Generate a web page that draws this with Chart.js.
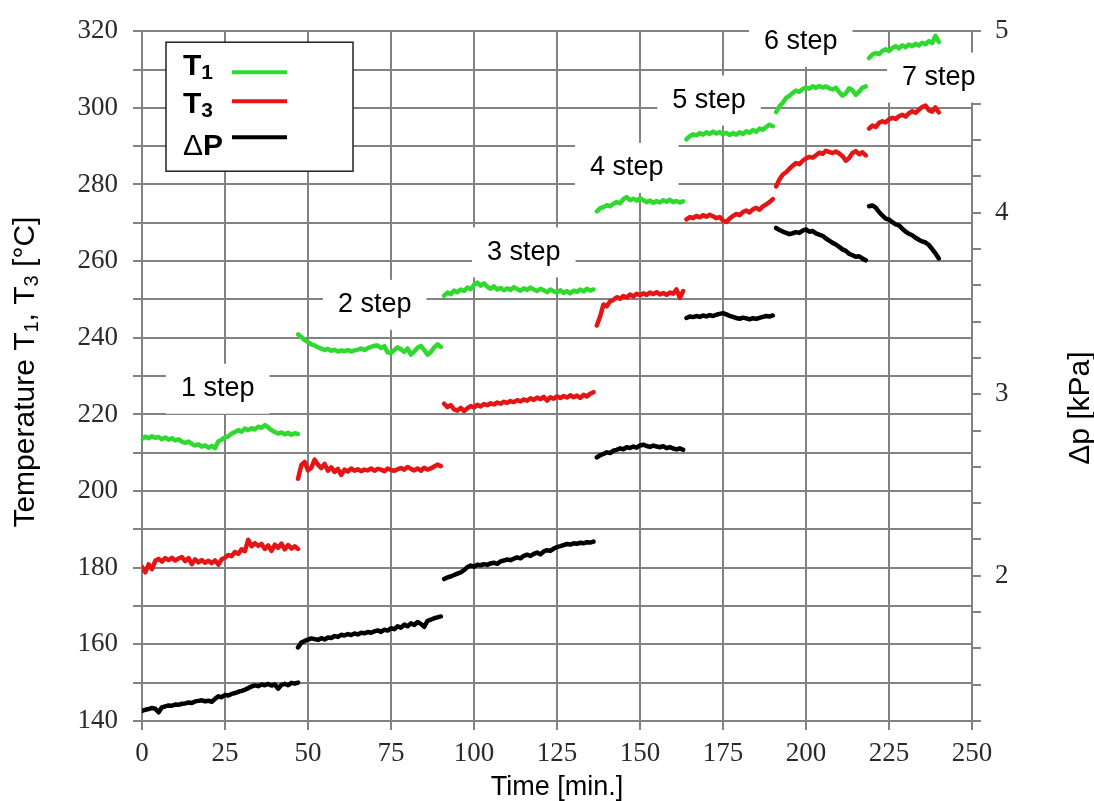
<!DOCTYPE html>
<html>
<head>
<meta charset="utf-8">
<script src="https://cdn.jsdelivr.net/npm/chart.js@4.4.1/dist/chart.umd.min.js"></script>
<style>
  html, body { margin: 0; padding: 0; background: #fff; }
  canvas { display: block; }
</style>
</head>
<body>
<canvas id="chart" width="1094" height="801"></canvas>
<script>
// time [min] of the samples of each heating step
const stepTimes = [
    [0,1,2,3,4,5,6,7,8,9,10,11,12,13,14,15,16,17,18,19,20,21,22,23,24,25,26,27,28,29,30,31,32,33,34,35,36,37,38,39,40,41,42,43,44,45,46,47],
    [47,48,49,50,51,52,53,54,55,56,57,58,59,60,61,62,63,64,65,66,67,68,69,70,71,72,73,74,75,76,77,78,79,80,81,82,83,84,85,86,87,88,89,90],
    [91,92,93,94,95,96,97,98,99,100,101,102,103,104,105,106,107,108,109,110,111,112,113,114,115,116,117,118,119,120,121,122,123,124,125,126,127,128,129,130,131,132,133,134,135,136],
    [137,138,139,140,141,142,143,144,145,146,147,148,149,150,151,152,153,154,155,156,157,158,159,160,161,162,163],
    [164,165,166,167,168,169,170,171,172,173,174,175,176,177,178,179,180,181,182,183,184,185,186,187,188,189,190],
    [191,192,193,194,195,196,197,198,199,200,201,202,203,204,205,206,207,208,209,210,211,212,213,214,215,216,217,218],
    [219,220,221,222,223,224,225,226,227,228,229,230,231,232,233,234,235,236,237,238,239,240]
];

// T1 [°C]
const t1Steps = [
    [213.6,214.2,213.8,214.3,213.9,214.1,213.5,214.0,213.4,213.8,213.2,213.5,212.9,212.6,212.9,212.3,211.9,212.2,211.6,211.9,211.3,211.8,211.2,213.0,213.4,214.0,214.3,215.0,215.4,215.9,215.5,216.3,215.9,216.4,216.1,216.8,216.5,217.2,216.6,215.9,215.4,215.0,215.3,214.8,215.2,214.7,215.1,214.9],
    [240.9,240.2,239.4,238.9,238.3,238.0,237.5,237.2,236.8,237.1,236.6,236.9,236.4,236.7,236.5,236.8,236.4,236.7,236.9,237.2,236.8,237.3,237.6,237.9,238.0,237.3,237.8,236.2,236.0,236.8,237.5,237.0,236.3,237.2,235.6,236.4,237.4,237.9,236.8,235.6,236.3,237.5,238.3,237.6],
    [251.0,251.8,251.4,252.3,251.9,252.6,252.2,253.1,252.7,253.8,254.4,253.6,254.2,253.3,252.8,253.4,252.6,253.0,252.4,252.9,252.5,253.2,252.7,252.3,252.9,252.5,253.1,252.6,252.2,252.8,252.4,251.9,252.6,252.1,251.8,252.4,251.7,252.2,251.6,252.3,252.0,252.6,252.1,252.8,252.3,252.6],
    [273.0,273.8,274.1,274.6,274.3,275.0,275.4,275.1,276.2,276.7,275.9,276.3,275.8,276.4,275.9,275.4,275.8,275.2,275.7,275.3,275.9,275.5,276.0,275.4,275.7,275.3,275.6],
    [291.8,292.6,293.1,292.8,293.4,293.0,293.6,293.2,293.8,293.3,293.7,293.1,293.5,292.9,293.4,293.0,293.6,293.2,293.9,293.5,294.2,293.8,294.6,294.3,295.0,295.6,295.2],
    [298.9,300.4,301.3,302.6,303.1,303.9,304.5,304.2,304.9,305.3,305.0,305.6,305.2,305.7,305.3,305.6,305.1,304.8,305.2,304.1,303.2,303.8,305.1,304.6,303.4,304.2,305.3,305.6],
    [313.0,313.9,314.3,314.0,314.9,315.3,314.8,315.6,316.1,315.5,316.3,315.8,316.5,316.1,316.7,316.3,317.0,316.6,317.4,316.9,318.8,317.2]
];

// T3 [°C]
const t3Steps = [
    [180.2,178.8,180.9,179.6,181.8,182.3,181.6,182.5,182.0,182.6,181.9,182.4,182.8,181.7,182.5,180.9,182.2,181.4,182.0,181.3,181.8,181.2,181.9,180.8,182.2,182.6,183.3,183.0,184.1,183.6,184.8,184.3,187.3,185.6,186.4,185.7,186.2,184.9,185.8,184.4,186.0,185.2,186.3,184.8,185.9,185.0,185.6,184.9],
    [203.2,206.8,207.6,205.4,206.1,208.2,206.9,206.0,207.1,205.3,206.2,205.0,205.8,204.2,205.6,205.1,205.9,205.3,205.7,205.2,205.6,205.4,205.9,205.3,205.8,205.6,205.2,205.9,205.5,205.3,205.7,206.0,205.6,206.3,205.8,205.4,205.9,205.3,206.1,205.6,205.9,206.4,206.9,206.5],
    [222.8,221.9,222.4,221.3,221.0,221.7,220.9,221.6,222.2,221.8,222.5,222.1,222.7,222.4,222.9,222.6,223.1,222.8,223.3,223.0,223.5,223.2,223.7,223.4,223.9,223.6,224.2,223.8,224.4,224.0,224.6,223.6,224.5,224.1,224.7,224.3,224.8,224.4,225.0,224.5,224.9,224.3,225.1,224.7,225.4,225.8],
    [243.2,245.6,248.7,248.2,249.5,249.9,250.6,250.2,250.9,250.5,251.3,250.8,251.5,251.1,251.6,251.2,251.8,251.4,251.9,251.3,251.7,251.2,251.8,251.5,252.6,250.4,252.2],
    [270.9,271.5,271.2,271.8,271.4,272.0,271.6,272.1,271.7,271.2,271.5,270.6,270.2,271.1,271.8,272.3,272.0,272.8,273.2,272.7,273.5,273.9,273.4,274.3,274.8,275.4,276.2],
    [279.5,281.3,282.6,283.2,284.1,284.9,285.6,285.3,286.2,286.8,287.2,287.0,287.6,288.3,288.0,288.8,288.5,288.2,288.6,288.1,287.4,286.2,286.9,288.2,288.7,287.9,288.4,287.6],
    [294.6,295.4,295.0,296.1,296.5,296.2,297.0,297.4,297.1,297.8,298.2,297.7,298.6,299.1,298.7,299.5,300.2,300.6,299.4,299.0,300.1,298.8]
];

// pressure drop [kPa]
const dpSteps = [
    [1.255,1.262,1.266,1.272,1.268,1.248,1.275,1.281,1.286,1.284,1.291,1.289,1.295,1.297,1.302,1.299,1.308,1.311,1.314,1.309,1.312,1.306,1.322,1.336,1.331,1.343,1.340,1.349,1.354,1.361,1.366,1.372,1.381,1.390,1.396,1.392,1.401,1.397,1.404,1.395,1.402,1.378,1.399,1.405,1.397,1.410,1.406,1.412],
    [1.605,1.632,1.641,1.648,1.655,1.651,1.647,1.656,1.649,1.660,1.657,1.668,1.663,1.675,1.671,1.679,1.674,1.682,1.677,1.686,1.683,1.690,1.686,1.694,1.699,1.691,1.703,1.698,1.711,1.706,1.722,1.714,1.731,1.722,1.738,1.729,1.745,1.735,1.718,1.752,1.758,1.766,1.771,1.776],
    [1.982,1.991,1.996,2.004,2.012,2.019,2.031,2.048,2.056,2.050,2.061,2.058,2.064,2.060,2.068,2.072,2.066,2.079,2.084,2.090,2.086,2.094,2.101,2.096,2.110,2.116,2.109,2.121,2.128,2.118,2.134,2.141,2.137,2.150,2.158,2.163,2.169,2.175,2.172,2.179,2.176,2.182,2.179,2.185,2.183,2.188],
    [2.652,2.664,2.671,2.680,2.676,2.689,2.694,2.702,2.697,2.708,2.704,2.712,2.706,2.718,2.722,2.715,2.710,2.717,2.712,2.708,2.714,2.703,2.709,2.701,2.696,2.702,2.694],
    [3.420,3.428,3.425,3.431,3.426,3.434,3.429,3.436,3.431,3.438,3.443,3.447,3.440,3.432,3.426,3.420,3.416,3.422,3.418,3.413,3.419,3.415,3.421,3.426,3.431,3.428,3.434],
    [3.916,3.905,3.896,3.889,3.882,3.887,3.893,3.889,3.901,3.908,3.895,3.899,3.886,3.879,3.873,3.858,3.846,3.834,3.825,3.812,3.798,3.790,3.774,3.766,3.757,3.760,3.748,3.738],
    [4.036,4.040,4.028,4.004,3.985,3.968,3.962,3.948,3.936,3.930,3.912,3.896,3.884,3.876,3.862,3.851,3.842,3.836,3.822,3.800,3.776,3.748]
];

// step annotations, placed in (time, temperature) units
const stepLabels = ['1 step', '2 step', '3 step', '4 step', '5 step', '6 step', '7 step'];
const stepLabelTime = [22.8, 70.1, 115, 146, 170.8, 198.4, 240];
const stepLabelTemp = [226.7, 248.6, 262.3, 284.3, 301.9, 317.2, 307.9];

const GRID = '#828282';
const SANS = '"Liberation Sans", Arial, sans-serif';
const SERIF = '"Liberation Serif", "Times New Roman", serif';

function buildSeries(steps) {
    const pts = [];
    steps.forEach((vals, i) => {
        if (i > 0) pts.push({ x: stepTimes[i][0], y: null });
        vals.forEach((v, j) => pts.push({ x: stepTimes[i][j], y: v }));
    });
    return pts;
}

// draws a row of text pieces (normal / subscript) centred on (cx, cy), rotated
function drawRuns(ctx, runs, cx, cy, angle) {
    ctx.save();
    ctx.translate(cx, cy);
    ctx.rotate(angle);
    ctx.textBaseline = 'alphabetic';
    ctx.textAlign = 'left';
    let total = 0;
    runs.forEach(r => { ctx.font = r.font; total += ctx.measureText(r.text).width; });
    let px = -total / 2;
    runs.forEach(r => {
        ctx.font = r.font;
        ctx.fillStyle = '#000';
        ctx.fillText(r.text, px, r.dy || 0);
        px += ctx.measureText(r.text).width;
    });
    ctx.restore();
}

const stepLabelPlugin = {
    id: 'stepLabels',
    beforeDatasetsDraw(chart) {
        const { ctx, scales: { x, y } } = chart;
        ctx.save();
        ctx.font = '27px ' + SANS;
        ctx.textAlign = 'center';
        ctx.textBaseline = 'middle';
        stepLabels.forEach((txt, i) => {
            const px = x.getPixelForValue(stepLabelTime[i]);
            const py = y.getPixelForValue(stepLabelTemp[i]);
            const w = ctx.measureText(txt).width + 30;
            const h = 50;
            ctx.fillStyle = '#fff';
            ctx.fillRect(px - w / 2, py - h / 2, w, h);
            ctx.fillStyle = '#000';
            ctx.fillText(txt, px, py);
        });
        ctx.restore();
    }
};

const legendPlugin = {
    id: 'boxLegend',
    afterDatasetsDraw(chart) {
        const { ctx, chartArea } = chart;
        const bx = chartArea.left + 24, by = chartArea.top + 11;
        ctx.save();
        ctx.fillStyle = '#fff';
        ctx.fillRect(bx, by, 187, 129);
        ctx.strokeStyle = '#222';
        ctx.lineWidth = 1.5;
        ctx.strokeRect(bx, by, 187, 129);

        const bold = 'bold 30px ' + SANS;
        const sub = 'bold 21px ' + SANS;
        const rows = [
            [{ text: 'T', font: bold }, { text: '1', font: sub, dy: 4 }],
            [{ text: 'T', font: bold }, { text: '3', font: sub, dy: 4 }],
            [{ text: '\u0394', font: '30px ' + SANS }, { text: 'P', font: bold }]
        ];
        const baselines = [33, 71, 113];
        const lineYs = [30, 59, 95];
        chart.data.datasets.forEach((ds, i) => {
            ctx.textAlign = 'left';
            ctx.textBaseline = 'alphabetic';
            ctx.fillStyle = '#000';
            let px = bx + 17;
            rows[i].forEach(r => {
                ctx.font = r.font;
                ctx.fillText(r.text, px, by + baselines[i] + (r.dy || 0));
                px += ctx.measureText(r.text).width;
            });
            ctx.strokeStyle = ds.borderColor;
            ctx.lineWidth = 4;
            ctx.beginPath();
            ctx.moveTo(bx + 66, by + lineYs[i]);
            ctx.lineTo(bx + 121, by + lineYs[i]);
            ctx.stroke();
        });
        ctx.restore();
    }
};

const axisTitlePlugin = {
    id: 'axisTitles',
    afterDraw(chart) {
        const { ctx, chartArea } = chart;
        const f = '30px ' + SANS;
        const s = '20px ' + SANS;
        const midY = (chartArea.top + chartArea.bottom) / 2;
        drawRuns(ctx, [
            { text: 'Temperature T', font: f },
            { text: '1', font: s, dy: 4 },
            { text: ', T', font: f },
            { text: '3', font: s, dy: 4 },
            { text: ' [\u00b0C]', font: f }
        ], 34, midY - 4, -Math.PI / 2);
        drawRuns(ctx, [{ text: '\u0394p [kPa]', font: f }], 1089, midY + 32, -Math.PI / 2);
    }
};

new Chart(document.getElementById('chart'), {
    type: 'line',
    data: {
        datasets: [
            { label: 'T1', data: buildSeries(t1Steps), borderColor: '#30d930', yAxisID: 'y' },
            { label: 'T3', data: buildSeries(t3Steps), borderColor: '#e51515', yAxisID: 'y' },
            { label: 'ΔP', data: buildSeries(dpSteps), borderColor: '#000000', yAxisID: 'y2' }
        ]
    },
    options: {
        responsive: false,
        animation: false,
        devicePixelRatio: 1,
        spanGaps: false,
        elements: {
            point: { radius: 0 },
            line: { borderWidth: 4.5, tension: 0, borderJoinStyle: 'round', borderCapStyle: 'round' }
        },
        layout: { padding: { top: 26, left: 0, right: 0, bottom: 0 } },
        plugins: { legend: { display: false }, tooltip: { enabled: false } },
        scales: {
            x: {
                type: 'linear',
                min: 0,
                max: 250,
                ticks: { stepSize: 25, padding: 8, color: '#2a2a2a', font: { family: SERIF, size: 27 }, maxRotation: 0 },
                grid: { color: GRID, lineWidth: 2, tickLength: 9 },
                border: { color: GRID, width: 2 },
                title: { display: true, text: 'Time [min.]', color: '#000', font: { family: SANS, size: 27, lineHeight: 1 }, padding: 0 },
                afterFit(scale) { scale.height = 80; }
            },
            y: {
                position: 'left',
                min: 140,
                max: 320,
                ticks: {
                    stepSize: 10, autoSkip: false, padding: 15, color: '#2a2a2a',
                    font: { family: SERIF, size: 27 },
                    callback: v => (v % 20 === 0 ? v : '')
                },
                grid: { color: GRID, lineWidth: 2, tickLength: 9 },
                border: { color: GRID, width: 2 },
                afterFit(scale) { scale.width = 142; }
            },
            y2: {
                position: 'right',
                min: 1.2,
                max: 5,
                ticks: {
                    stepSize: 0.2, autoSkip: false, padding: 14, color: '#2a2a2a',
                    font: { family: SERIF, size: 27 },
                    callback: v => (Math.abs(v - Math.round(v)) < 1e-6 ? Math.round(v) : '')
                },
                grid: { drawOnChartArea: false, color: GRID, lineWidth: 2, tickLength: 9 },
                border: { color: GRID, width: 2 },
                afterFit(scale) { scale.width = 122; }
            }
        }
    },
    plugins: [stepLabelPlugin, legendPlugin, axisTitlePlugin]
});
</script>
</body>
</html>
